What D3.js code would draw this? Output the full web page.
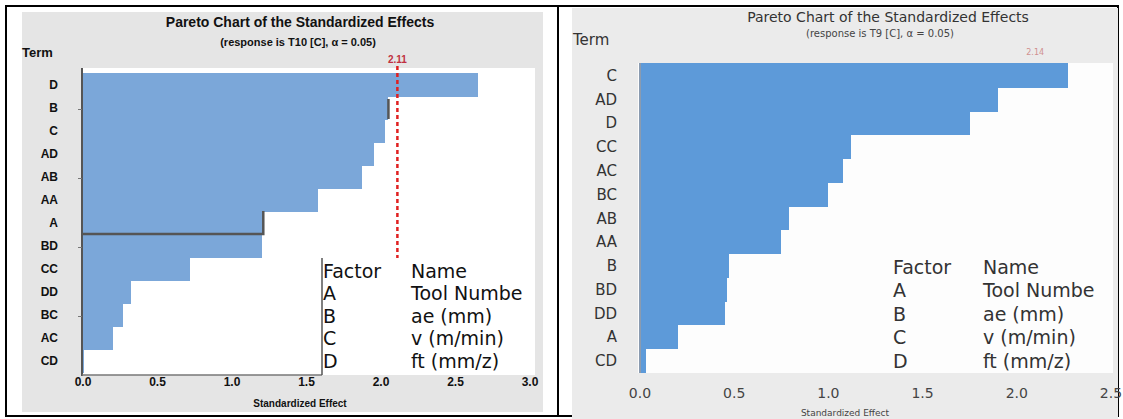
<!DOCTYPE html>
<html>
<head>
<meta charset="utf-8">
<script src="https://cdn.jsdelivr.net/npm/d3@7"></script>
<style>
  body { margin: 0; background: #fff; }
  svg { display: block; }
</style>
</head>
<body>
<svg id="chart" width="1123" height="419"></svg>
<script>
// left chart (response T10)
const leftTerms = ["D", "B", "C", "AD", "AB", "AA", "A", "BD", "CC", "DD", "BC", "AC", "CD"];
const leftEffects = [2.65, 2.05, 2.03, 1.95, 1.87, 1.58, 1.21, 1.20, 0.72, 0.32, 0.27, 0.20, 0.01];
const leftCritical = 2.11;
const leftTicks = [0, 0.5, 1.0, 1.5, 2.0, 2.5, 3.0];

// right chart (response T9)
const rightTerms = ["C", "AD", "D", "CC", "AC", "BC", "AB", "AA", "B", "BD", "DD", "A", "CD"];
const rightEffects = [2.27, 1.90, 1.75, 1.12, 1.08, 1.00, 0.79, 0.75, 0.47, 0.46, 0.45, 0.20, 0.03];
const rightCritical = 2.14;
const rightTicks = [0, 0.5, 1.0, 1.5, 2.0, 2.5];

const factors = ["A", "B", "C", "D"];
const factorNames = ["Tool Numbe", "ae (mm)", "v (m/min)", "ft (mm/z)"];

const svg = d3.select("#chart");

/* table frame */
svg.append("rect").attr("x", 6).attr("y", 6).attr("width", 1112).attr("height", 410)
  .attr("fill", "none").attr("stroke", "#000").attr("stroke-width", 2);
svg.append("line").attr("x1", 558).attr("x2", 558).attr("y1", 6).attr("y2", 416)
  .attr("stroke", "#000").attr("stroke-width", 2);

/* ---------- left panel ---------- */
const lf = "'Liberation Sans', Arial, sans-serif";
svg.append("rect").attr("x", 22).attr("y", 12).attr("width", 521).attr("height", 400).attr("fill", "#e5e5e5");
svg.append("rect").attr("x", 82).attr("y", 68).attr("width", 453).attr("height", 307).attr("fill", "#fff");

let xL = d3.scaleLinear().domain([0, 3]).range([83, 530]);
let yL = d3.scaleBand().domain(leftTerms).range([73, 372]);

svg.append("g").selectAll("rect")
  .data(leftTerms)
  .enter().append("rect")
    .attr("x", xL(0))
    .attr("y", (d) => yL(d))
    .attr("width", (d, i) => xL(leftEffects[i]) - xL(0))
    .attr("height", yL.bandwidth() + 1)
    .attr("shape-rendering", "crispEdges")
    .attr("fill", "#7ba7d9");

// dark edges seen on B and A bars
let iB = leftTerms.indexOf("B"), iA = leftTerms.indexOf("A");
svg.append("line")
  .attr("x1", xL(leftEffects[iB])).attr("x2", xL(leftEffects[iB]))
  .attr("y1", yL("B") + 3).attr("y2", yL("B") + yL.bandwidth())
  .attr("stroke", "#555").attr("stroke-width", 2.5);
svg.append("path")
  .attr("d", "M" + xL(0) + "," + (yL("A") + yL.bandwidth()) +
             " L" + xL(leftEffects[iA]) + "," + (yL("A") + yL.bandwidth()) +
             " L" + xL(leftEffects[iA]) + "," + yL("A"))
  .attr("fill", "none").attr("stroke", "#555").attr("stroke-width", 2.5);

// axis lines
svg.append("line").attr("x1", 82).attr("x2", 82).attr("y1", 68).attr("y2", 376)
  .attr("stroke", "#555").attr("stroke-width", 2);
svg.append("line").attr("x1", 82).attr("x2", 322).attr("y1", 375).attr("y2", 375)
  .attr("stroke", "#777").attr("stroke-width", 1.5);
svg.append("g").selectAll("line")
  .data(leftTerms.filter((d, i) => i % 3 === 1))
  .enter().append("line")
    .attr("x1", 78).attr("x2", 82)
    .attr("y1", (d) => yL(d) + yL.bandwidth() / 2 + 2)
    .attr("y2", (d) => yL(d) + yL.bandwidth() / 2 + 2)
    .attr("stroke", "#777");

// critical line
svg.append("line")
  .attr("x1", xL(leftCritical)).attr("x2", xL(leftCritical))
  .attr("y1", 66).attr("y2", 258)
  .attr("stroke", "#e02020").attr("stroke-width", 2.5).attr("stroke-dasharray", "4,3");
svg.append("text").text(leftCritical.toFixed(2))
  .attr("x", xL(leftCritical)).attr("y", 63).attr("text-anchor", "middle")
  .style("font-family", lf).style("font-size", "10px").style("font-weight", "bold").attr("fill", "#c03040");

// term labels
svg.append("g").selectAll("text")
  .data(leftTerms)
  .enter().append("text")
    .text((d) => d)
    .attr("x", 58)
    .attr("y", (d) => yL(d) + yL.bandwidth() / 2 + 4)
    .attr("text-anchor", "end")
    .style("font-family", lf).style("font-size", "12px").style("font-weight", "bold").attr("fill", "#111");

svg.append("g").selectAll("text")
  .data(leftTicks)
  .enter().append("text")
    .text((d) => d3.format(".1f")(d))
    .attr("x", (d) => xL(d)).attr("y", 386)
    .attr("text-anchor", "middle")
    .style("font-family", lf).style("font-size", "12px").style("font-weight", "bold").attr("fill", "#111");

svg.append("text").text("Standardized Effect")
  .attr("x", 300).attr("y", 407).attr("text-anchor", "middle")
  .style("font-family", lf).style("font-size", "10px").style("font-weight", "bold").attr("fill", "#111");
svg.append("text").text("Term")
  .attr("x", 22).attr("y", 57)
  .style("font-family", lf).style("font-size", "13px").style("font-weight", "bold").attr("fill", "#111");
svg.append("text").text("Pareto Chart of the Standardized Effects")
  .attr("x", 300).attr("y", 27).attr("text-anchor", "middle")
  .style("font-family", lf).style("font-size", "14px").style("font-weight", "bold").attr("fill", "#111");
svg.append("text").text("(response is T10 [C], α = 0.05)")
  .attr("x", 298).attr("y", 46).attr("text-anchor", "middle")
  .style("font-family", lf).style("font-size", "11px").style("font-weight", "bold").attr("fill", "#111");

// legend
svg.append("rect").attr("x", 322).attr("y", 258).attr("width", 213).attr("height", 117).attr("fill", "#fff");
svg.append("line").attr("x1", 322).attr("x2", 322).attr("y1", 258).attr("y2", 375)
  .attr("stroke", "#555").attr("stroke-width", 1.5);
let legL = svg.append("g").style("font-family", "'DejaVu Sans', sans-serif").style("font-size", "19px").attr("fill", "#111");
legL.append("text").text("Factor").attr("x", 323).attr("y", 278);
legL.append("text").text("Name").attr("x", 411).attr("y", 278);
legL.selectAll(".f").data(factors).enter().append("text").attr("class", "f")
  .text((d) => d).attr("x", 323).attr("y", (d, i) => 300 + i * 22.5);
legL.selectAll(".n").data(factorNames).enter().append("text").attr("class", "n")
  .text((d) => d).attr("x", 411).attr("y", (d, i) => 300 + i * 22.5);

/* ---------- right panel ---------- */
const rf = "'DejaVu Sans', sans-serif";
svg.append("rect").attr("x", 572).attr("y", 8).attr("width", 546).attr("height", 411).attr("fill", "#ebebeb");
svg.append("rect").attr("x", 638).attr("y", 63).attr("width", 475).attr("height", 310).attr("fill", "#fdfdfd");

let xR = d3.scaleLinear().domain([0, 2.5]).range([640, 1111]);
let yR = d3.scaleBand().domain(rightTerms).range([63, 372]);

svg.append("g").selectAll("rect")
  .data(rightTerms)
  .enter().append("rect")
    .attr("x", xR(0))
    .attr("y", (d) => yR(d))
    .attr("width", (d, i) => xR(rightEffects[i]) - xR(0))
    .attr("height", yR.bandwidth() + 1)
    .attr("shape-rendering", "crispEdges")
    .attr("fill", "#5d9ad9");

svg.append("line").attr("x1", 640).attr("x2", 640).attr("y1", 63).attr("y2", 373)
  .attr("stroke", "#8a9bb0").attr("stroke-width", 2);

svg.append("text").text(rightCritical.toFixed(2))
  .attr("x", xR(rightCritical) - 8).attr("y", 55).attr("text-anchor", "middle")
  .style("font-family", rf).style("font-size", "8px").attr("fill", "#d09090");

svg.append("g").selectAll("text")
  .data(rightTerms)
  .enter().append("text")
    .text((d) => d)
    .attr("x", 617)
    .attr("y", (d) => yR(d) + yR.bandwidth() / 2 + 6)
    .attr("text-anchor", "end")
    .style("font-family", rf).style("font-size", "15px").attr("fill", "#333");

svg.append("g").selectAll("text")
  .data(rightTicks)
  .enter().append("text")
    .text((d) => d3.format(".1f")(d))
    .attr("x", (d) => xR(d)).attr("y", 398)
    .attr("text-anchor", "middle")
    .style("font-family", rf).style("font-size", "14px").attr("fill", "#444");

svg.append("text").text("Standardized Effect")
  .attr("x", 845).attr("y", 416).attr("text-anchor", "middle")
  .style("font-family", rf).style("font-size", "9px").attr("fill", "#444");
svg.append("text").text("Term")
  .attr("x", 573).attr("y", 45)
  .style("font-family", rf).style("font-size", "15px").attr("fill", "#333");
svg.append("text").text("Pareto Chart of the Standardized Effects")
  .attr("x", 888).attr("y", 22).attr("text-anchor", "middle")
  .style("font-family", rf).style("font-size", "14px").attr("fill", "#333");
svg.append("text").text("(response is T9 [C], α = 0.05)")
  .attr("x", 880).attr("y", 37).attr("text-anchor", "middle")
  .style("font-family", rf).style("font-size", "10px").attr("fill", "#444");

let legR = svg.append("g").style("font-family", rf).style("font-size", "19px").attr("fill", "#333");
legR.append("text").text("Factor").attr("x", 893).attr("y", 274);
legR.append("text").text("Name").attr("x", 983).attr("y", 274);
legR.selectAll(".f").data(factors).enter().append("text").attr("class", "f")
  .text((d) => d).attr("x", 893).attr("y", (d, i) => 297 + i * 23.5);
legR.selectAll(".n").data(factorNames).enter().append("text").attr("class", "n")
  .text((d) => d).attr("x", 983).attr("y", (d, i) => 297 + i * 23.5);
</script>
</body>
</html>
